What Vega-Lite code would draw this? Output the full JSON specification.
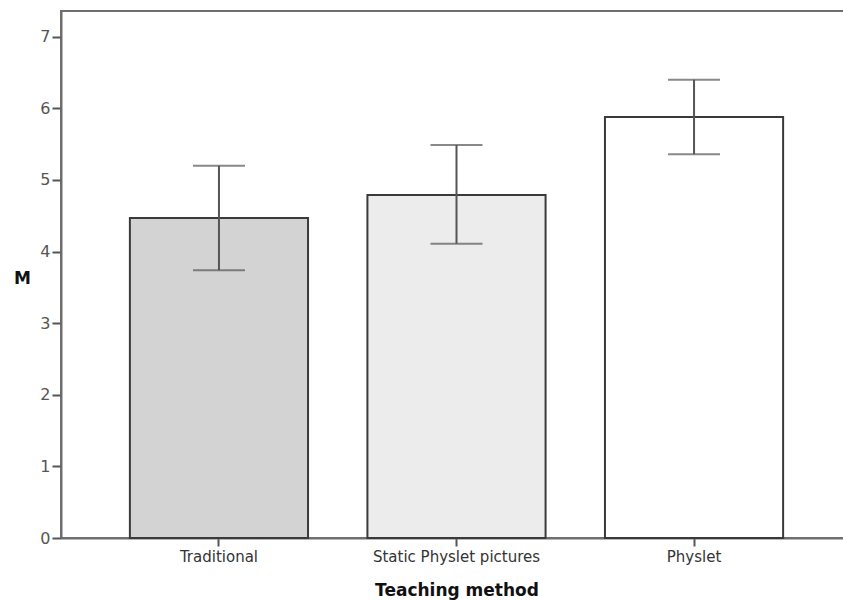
{
  "$schema": "https://vega.github.io/schema/vega-lite/v6.json",
  "width": 791,
  "height": 527,
  "autosize": {"type": "none"},
  "padding": {"left": 61, "top": 11, "right": 0, "bottom": 63},
  "background": "white",
  "config": {
    "view": {"stroke": "#6e6e6e", "strokeWidth": 2},
    "font": "DejaVu Sans"
  },
  "data": {
    "values": [
      {"method": "Traditional", "mean": 4.47, "lo": 3.74, "hi": 5.20, "fill": "#d3d3d3"},
      {"method": "Static Physlet pictures", "mean": 4.79, "lo": 4.11, "hi": 5.49, "fill": "#ececec"},
      {"method": "Physlet", "mean": 5.88, "lo": 5.36, "hi": 6.40, "fill": "#ffffff"}
    ]
  },
  "encoding": {
    "x": {
      "field": "method",
      "type": "nominal",
      "sort": null,
      "scale": {"paddingInner": 0.25, "paddingOuter": 0.29},
      "axis": {
        "title": "Teaching method",
        "labelAngle": 0,
        "labelFont": "DejaVu Sans",
        "labelFontSize": 15,
        "labelColor": "#333333",
        "labelPadding": 3,
        "tickSize": 8,
        "tickWidth": 2,
        "tickColor": "#555555",
        "domainColor": "#6e6e6e",
        "domainWidth": 2,
        "titleFont": "DejaVu Sans",
        "titleFontSize": 17,
        "titleFontWeight": "bold",
        "titleColor": "#111111",
        "titleY": 52,
        "titleBaseline": "middle"
      }
    }
  },
  "layer": [
    {
      "mark": {"type": "bar", "stroke": "#3a3a3a", "strokeWidth": 2},
      "encoding": {
        "y": {
          "field": "mean",
          "type": "quantitative",
          "scale": {"domain": [0, 7.36], "nice": false},
          "axis": {
            "title": "M",
            "titleAngle": 0,
            "titleX": -39,
            "titleY": 267,
            "titleAlign": "center",
            "titleBaseline": "middle",
            "titleFont": "DejaVu Sans",
            "titleFontSize": 17,
            "titleFontWeight": "bold",
            "titleColor": "#111111",
            "values": [0, 1, 2, 3, 4, 5, 6, 7],
            "format": "d",
            "grid": false,
            "labelFont": "DejaVu Sans",
            "labelFontSize": 16,
            "labelColor": "#555555",
            "labelPadding": 2,
            "tickSize": 9,
            "tickWidth": 2,
            "tickColor": "#555555",
            "domainColor": "#6e6e6e",
            "domainWidth": 2
          }
        },
        "fill": {"field": "fill", "type": "nominal", "scale": null, "legend": null}
      }
    },
    {
      "mark": {"type": "rule", "color": "#555555", "strokeWidth": 2},
      "encoding": {
        "y": {"field": "lo", "type": "quantitative"},
        "y2": {"field": "hi"}
      }
    },
    {
      "mark": {"type": "tick", "color": "#555555", "thickness": 2, "size": 52},
      "encoding": {
        "y": {"field": "lo", "type": "quantitative"}
      }
    },
    {
      "mark": {"type": "tick", "color": "#555555", "thickness": 2, "size": 52},
      "encoding": {
        "y": {"field": "hi", "type": "quantitative"}
      }
    }
  ]
}
